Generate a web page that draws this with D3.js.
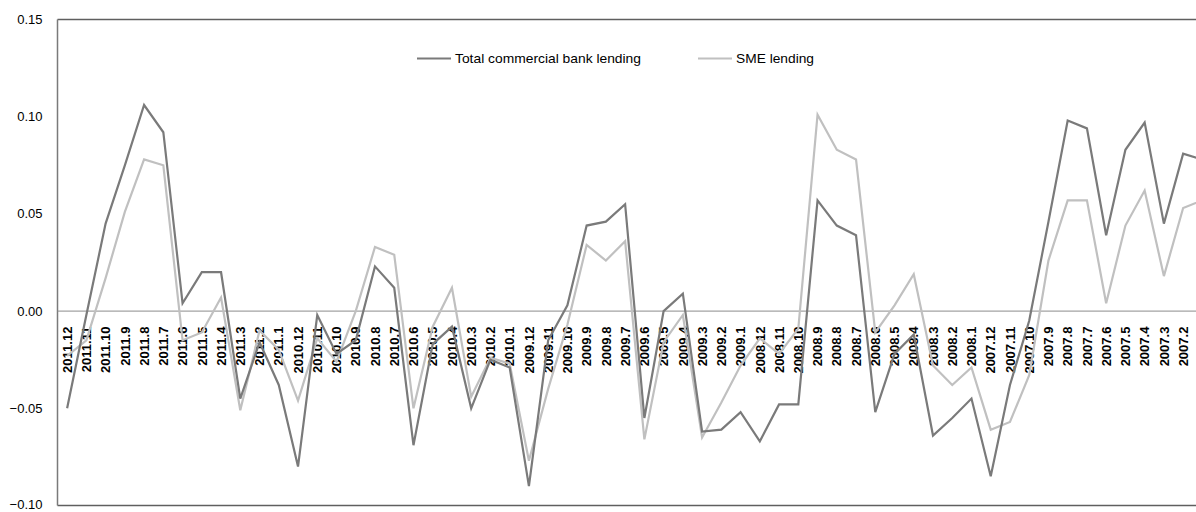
<!DOCTYPE html>
<html>
<head>
<meta charset="utf-8">
<script src="https://d3js.org/d3.v7.min.js"></script>
<style>
  body { margin: 0; background: #fff; }
  text { font-family: "Liberation Sans", Arial, sans-serif; }
</style>
</head>
<body>
<div id="app"></div>
<script>
const months = ["2011.12","2011.11","2011.10","2011.9","2011.8","2011.7","2011.6","2011.5","2011.4","2011.3","2011.2","2011.1",
  "2010.12","2010.11","2010.10","2010.9","2010.8","2010.7","2010.6","2010.5","2010.4","2010.3","2010.2","2010.1",
  "2009.12","2009.11","2009.10","2009.9","2009.8","2009.7","2009.6","2009.5","2009.4","2009.3","2009.2","2009.1",
  "2008.12","2008.11","2008.10","2008.9","2008.8","2008.7","2008.6","2008.5","2008.4","2008.3","2008.2","2008.1",
  "2007.12","2007.11","2007.10","2007.9","2007.8","2007.7","2007.6","2007.5","2007.4","2007.3","2007.2","2007.1"]

const totalLending = [-0.050,-0.002,0.045,0.075,0.106,0.092,0.004,0.020,0.020,-0.045,-0.016,-0.038,
  -0.080,-0.002,-0.022,-0.015,0.023,0.012,-0.069,-0.017,-0.008,-0.050,-0.025,-0.029,
  -0.090,-0.015,0.003,0.044,0.046,0.055,-0.055,0.000,0.009,-0.062,-0.061,-0.052,
  -0.067,-0.048,-0.048,0.057,0.044,0.039,-0.052,-0.022,-0.012,-0.064,-0.055,-0.045,
  -0.085,-0.038,-0.005,0.046,0.098,0.094,0.039,0.083,0.097,0.045,0.081,0.078]

const smeLending = [-0.023,-0.015,0.017,0.051,0.078,0.075,-0.015,-0.011,0.007,-0.051,-0.010,-0.020,
  -0.046,-0.014,-0.026,0.000,0.033,0.029,-0.050,-0.008,0.012,-0.044,-0.024,-0.027,
  -0.077,-0.040,-0.007,0.034,0.026,0.036,-0.066,-0.016,-0.002,-0.065,-0.047,-0.028,
  -0.014,-0.022,-0.009,0.101,0.083,0.078,-0.011,0.003,0.019,-0.028,-0.038,-0.029,
  -0.061,-0.057,-0.033,0.026,0.057,0.057,0.004,0.044,0.062,0.018,0.053,0.057]

const yTicks = [0.15, 0.10, 0.05, 0.00, -0.05, -0.10]
const seriesNames = ["Total commercial bank lending", "SME lending"]

var w = 1196
var h = 512
const padLeft = 57.5, padTop = 19.5, padBottom = 505.5
const plotRight = 1212  // plot runs past the window edge

const svg = d3.select("#app")
  .append("svg")
  .attr("width", w)
  .attr("height", h)
  .style("display", "block")

const x = d3.scalePoint()
  .domain(months)
  .range([padLeft, plotRight])
  .padding(0.5)

const y = d3.scaleLinear()
  .domain([-0.1, 0.15])
  .range([padBottom, padTop])

// y labels
svg.append("g")
  .selectAll("text")
  .data(yTicks)
  .enter()
  .append("text")
  .attr("x", 42.5)
  .attr("y", d => Math.min(y(d), 504))
  .attr("dy", "0.35em")
  .attr("text-anchor", "end")
  .style("font-size", "13px")
  .style("fill", "#000")
  .text(d => d3.format(".2f")(d))

// frame
svg.append("line")
  .attr("x1", padLeft).attr("x2", w)
  .attr("y1", y(0.15)).attr("y2", y(0.15))
  .style("stroke", "#5f5f5f").style("stroke-width", 1.5)
svg.append("line")
  .attr("x1", padLeft).attr("x2", w)
  .attr("y1", y(-0.1)).attr("y2", y(-0.1))
  .style("stroke", "#5f5f5f").style("stroke-width", 1.5)
svg.append("line")
  .attr("x1", padLeft).attr("x2", padLeft)
  .attr("y1", y(0.15)).attr("y2", y(-0.1))
  .style("stroke", "#7a7a7a").style("stroke-width", 1.5)

// zero line
svg.append("line")
  .attr("x1", padLeft).attr("x2", w)
  .attr("y1", y(0)).attr("y2", y(0))
  .style("stroke", "#8c8c8c").style("stroke-width", 1)

// month labels (the last one falls outside the window)
svg.append("g")
  .selectAll("text")
  .data(months.filter(d => x(d) < w - 5))
  .enter()
  .append("text")
  .attr("transform", d => "translate(" + x(d) + "," + (y(0) + 15.5) + ") rotate(-90)")
  .attr("dy", "0.36em")
  .attr("text-anchor", "end")
  .style("font-size", "13px")
  .style("font-weight", "bold")
  .style("fill", "#000")
  .text(d => d)

const line = d3.line()
  .x((d, i) => x(months[i]))
  .y(d => y(d))

svg.append("path")
  .datum(smeLending)
  .attr("d", line)
  .style("fill", "none")
  .style("stroke", "#c0c0c0")
  .style("stroke-width", 2.2)

svg.append("path")
  .datum(totalLending)
  .attr("d", line)
  .style("fill", "none")
  .style("stroke", "#7a7a7a")
  .style("stroke-width", 2.2)

// legend
const legend = svg.append("g")
const legItems = [
  {name: seriesNames[0], color: "#7a7a7a", x: 417, len: 186},
  {name: seriesNames[1], color: "#c0c0c0", x: 698, len: 78}
]
legItems.forEach(item => {
  legend.append("line")
    .attr("x1", item.x).attr("x2", item.x + 34)
    .attr("y1", 58.5).attr("y2", 58.5)
    .style("stroke", item.color).style("stroke-width", 2.2)
  legend.append("text")
    .attr("x", item.x + 38)
    .attr("y", 58.5)
    .attr("dy", "0.35em")
    .attr("textLength", item.len)
    .attr("lengthAdjust", "spacingAndGlyphs")
    .style("font-size", "13px")
    .text(item.name)
})
</script>
</body>
</html>
